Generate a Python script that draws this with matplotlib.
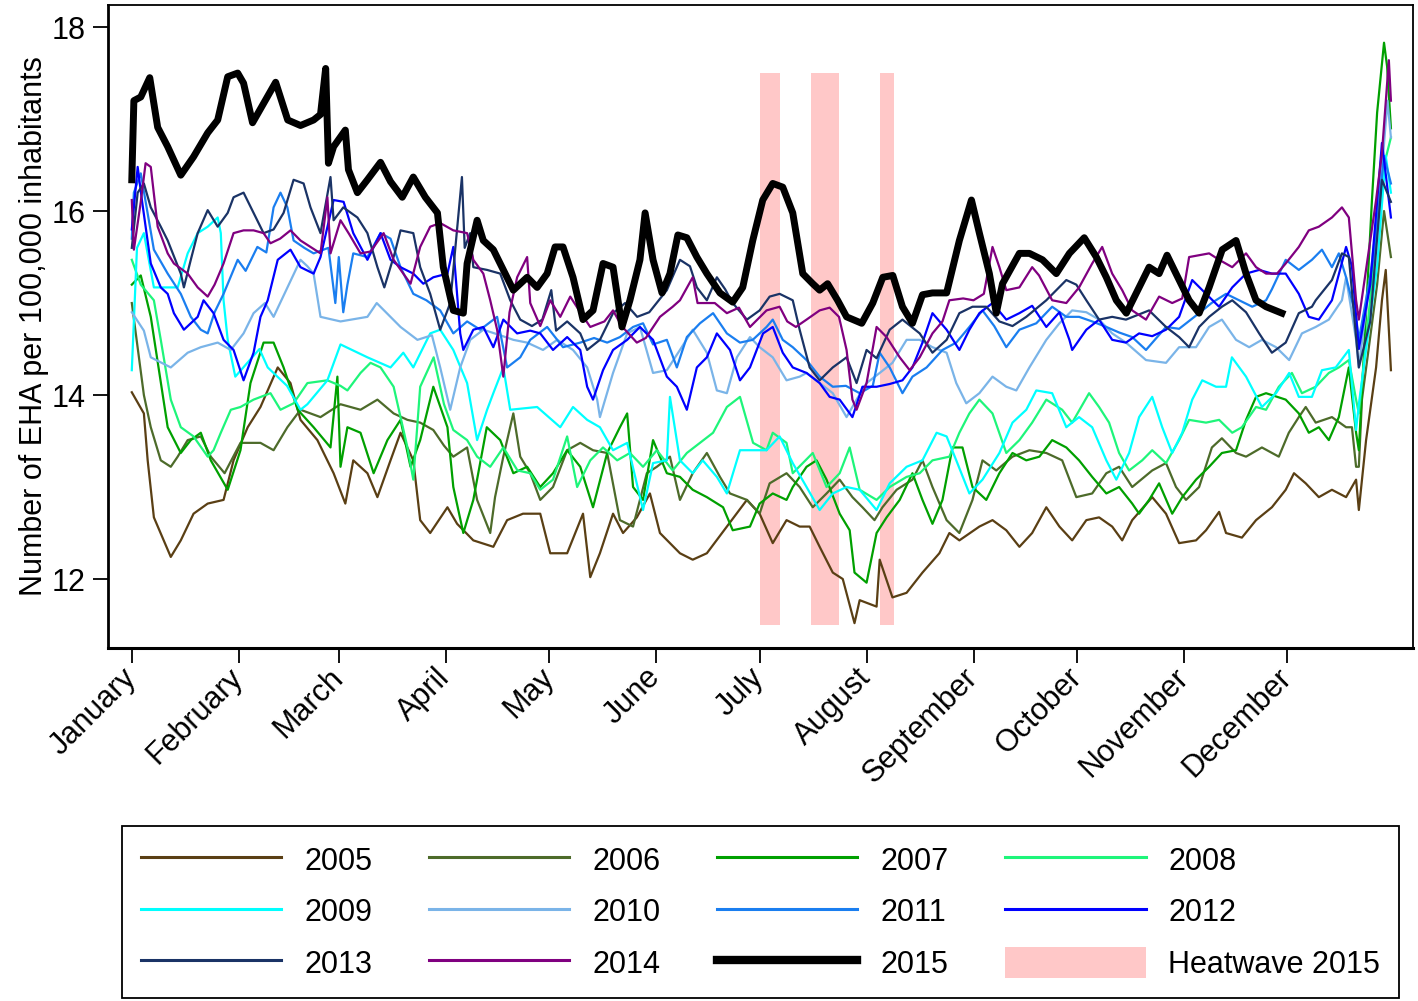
import matplotlib
matplotlib.use('Agg')
import matplotlib.pyplot as plt
from matplotlib.patches import Patch
from matplotlib.lines import Line2D

plt.rcParams['font.family'] = ['Liberation Sans', 'DejaVu Sans']

# day of year (leap calendar, 1..366) and daily EHA rate per 100,000
Y2005 = [(1, 14.03), (4.5, 13.8), (5.6, 13.29), (7.4, 12.67), (12.3, 12.24), (15.2, 12.42), (18.9, 12.71),
         (23, 12.82), (27.6, 12.86), (30.5, 13.29), (34.6, 13.65), (38.3, 13.87), (43.3, 14.3), (47, 14.13),
         (49.9, 13.73), (54.8, 13.51), (59.5, 13.15), (62.9, 12.82), (65.2, 13.29), (69.3, 13.15), (72.2, 12.89),
         (76, 13.29), (78.9, 13.59), (82.6, 13.29), (84.6, 12.64), (87.5, 12.5), (92.5, 12.78), (95.3, 12.6),
         (100, 12.42), (105.8, 12.35), (109.8, 12.64), (114.4, 12.71), (119.4, 12.71), (122.3, 12.28),
         (127.2, 12.28), (131.8, 12.71), (133.9, 12.02), (136.7, 12.28), (140.5, 12.71), (143.4, 12.5),
         (147.4, 12.67), (151.2, 12.93), (154.1, 12.5), (159.9, 12.28), (163.6, 12.21), (167.7, 12.28),
         (173.5, 12.57), (179.3, 12.86), (183, 12.71), (186.8, 12.39), (190.8, 12.64), (194.6, 12.57),
         (197.5, 12.57), (200.4, 12.35), (204.2, 12.07), (207.1, 12.0), (210.5, 11.52), (212, 11.77),
         (216.9, 11.7), (217.8, 12.21), (221.5, 11.8), (225.6, 11.85), (230.2, 12.07), (235.1, 12.28),
         (238, 12.5), (240.9, 12.42), (246.7, 12.57), (250.5, 12.64), (254.5, 12.53), (258.3, 12.35),
         (262, 12.5), (266.1, 12.78), (269.9, 12.57), (273.6, 12.42), (277.7, 12.64), (281.4, 12.67),
         (285.2, 12.57), (288.1, 12.42), (291, 12.64), (296.8, 12.89), (300.8, 12.71), (304.6, 12.39),
         (309.5, 12.42), (312.4, 12.53), (316.2, 12.73), (318.2, 12.5), (322.8, 12.45), (326.9, 12.64),
         (331.5, 12.78), (335.5, 12.97), (337.9, 13.15), (341.3, 13.04), (345.1, 12.89), (348.9, 12.97),
         (353, 12.89), (355.9, 13.08), (356.7, 12.75), (358.8, 13.51), (361.7, 14.3), (363.4, 15.03),
         (364.5, 15.36), (366, 14.27)]

Y2006 = [(1, 15.0), (4.5, 14.0), (6.5, 13.65), (9.4, 13.29), (12.3, 13.22), (14.3, 13.33), (17.2, 13.51),
         (21, 13.55), (23.9, 13.33), (27.9, 13.15), (32.5, 13.48), (38.3, 13.48), (42.1, 13.4), (46.1, 13.65),
         (49.9, 13.84), (55.7, 13.76), (61.5, 13.9), (67.3, 13.84), (72.2, 13.95), (76.9, 13.8), (80.9, 13.73),
         (84.6, 13.7), (88.4, 13.62), (91.5, 13.45), (94.2, 13.33), (98.2, 13.43), (101.1, 12.86),
         (104.9, 12.5), (106.3, 12.89), (108.7, 13.33), (111.6, 13.8), (113.6, 13.33), (116.5, 13.15),
         (119.4, 12.86), (123.1, 13.0), (127.2, 13.4), (131, 13.48), (134.7, 13.4), (138.8, 13.37),
         (142.5, 12.64), (146.3, 12.57), (150.3, 13.15), (153.2, 13.22), (157, 13.33), (159.9, 12.86),
         (163.6, 13.15), (167.7, 13.37), (171.5, 13.11), (174.4, 12.93), (179.3, 12.86), (183, 12.71),
         (185.9, 13.04), (190.8, 13.15), (194.6, 13.0), (198.4, 12.78), (202.4, 12.93), (206.2, 13.08),
         (209.9, 12.89), (212.8, 12.78), (216.3, 12.64), (218.6, 12.78), (222.7, 12.97), (227.3, 13.08),
         (230.2, 13.29), (233.1, 13.0), (237.2, 12.64), (240.9, 12.5), (244.7, 12.86), (247.6, 13.29),
         (251.6, 13.18), (256.3, 13.33), (261.2, 13.4), (266.1, 13.37), (270.7, 13.29), (274.8, 12.89),
         (279.4, 12.93), (283.5, 13.15), (287.2, 13.22), (291, 13.0), (296.8, 13.18), (300.8, 13.26),
         (303.7, 13.0), (306.6, 12.86), (310.4, 13.0), (314.1, 13.43), (317, 13.53), (321.1, 13.37),
         (324, 13.33), (328.6, 13.43), (333.5, 13.33), (336.4, 13.59), (339.3, 13.76), (341.3, 13.87),
         (344.2, 13.7), (348.9, 13.76), (353, 13.65), (354.7, 13.65), (355.9, 13.22), (356.7, 13.22),
         (357.6, 13.95), (362, 15.2), (364, 16.0), (366, 15.5)]

Y2007 = [(1, 15.2), (3.6, 15.3), (6.5, 14.85), (11.4, 13.65), (15.2, 13.37), (18.1, 13.51), (21, 13.59),
         (23.9, 13.29), (28.8, 12.97), (32.5, 13.4), (35.4, 14.13), (39.2, 14.57), (42.1, 14.57), (45, 14.3),
         (49.1, 13.84), (53.7, 13.65), (58.6, 13.43), (60.6, 14.2), (61.5, 13.22), (63.5, 13.65),
         (67.3, 13.59), (71.1, 13.15), (75.1, 13.51), (78.9, 13.73), (81.8, 13.22), (84.6, 13.51),
         (88.4, 14.09), (92.5, 13.65), (94.2, 13.0), (97.1, 12.5), (100, 12.86), (103.9, 13.65),
         (107.8, 13.51), (111.6, 13.15), (115.6, 13.22), (119.4, 13.0), (123.1, 13.15), (127.2, 13.4),
         (131, 13.22), (134.7, 12.78), (138.8, 13.37), (142.5, 13.65), (144.6, 13.8), (146.3, 13.0),
         (149.2, 12.86), (152.1, 13.51), (156.1, 13.15), (159.9, 13.11), (163.6, 12.97), (167.7, 12.89),
         (172.4, 12.78), (175.2, 12.53), (180.2, 12.57), (183, 12.82), (186.8, 12.93), (190.8, 12.86),
         (192.6, 13.0), (196.6, 13.22), (199.5, 13.29), (202.4, 13.08), (206.2, 12.71), (209.1, 12.53),
         (210.5, 12.07), (214, 11.96), (216.9, 12.5), (219.8, 12.67), (223.6, 12.86), (227.3, 13.15),
         (230.2, 12.86), (233.1, 12.6), (236, 12.86), (238.9, 13.43), (241.8, 13.43), (244.7, 13.0),
         (248.7, 12.86), (252.5, 13.15), (256.3, 13.37), (260.3, 13.29), (264.1, 13.33), (267.8, 13.51),
         (271.9, 13.43), (275.6, 13.29), (279.4, 13.11), (283.5, 12.93), (287.2, 13.0), (291, 12.82),
         (293, 12.71), (295.9, 12.86), (298.8, 13.04), (302.6, 12.71), (305.5, 12.89), (309.5, 13.08),
         (313.3, 13.22), (317, 13.37), (321.1, 13.4), (324, 13.73), (326.9, 13.98), (329.8, 14.02),
         (335.5, 13.95), (339.3, 13.8), (342.2, 13.59), (345.1, 13.65), (348, 13.51), (350.9, 13.76),
         (353.8, 14.3), (355.9, 13.59), (356.7, 13.4), (360.5, 16.12), (362, 17.07), (364, 17.83),
         (364.9, 17.57), (366, 16.9)]

Y2008 = [(1, 15.47), (3.6, 15.2), (7.4, 15.03), (9.4, 14.6), (12.3, 13.95), (15.2, 13.65), (18.9, 13.55),
         (23, 13.33), (24.7, 13.4), (26.8, 13.59), (29.7, 13.84), (32.5, 13.87), (36.3, 13.95), (41.2, 14.02),
         (44.1, 13.84), (47.9, 13.91), (51.9, 14.13), (57.7, 14.16), (61.5, 14.1), (63.5, 14.05),
         (67.3, 14.24), (70.2, 14.35), (73.1, 14.3), (76.9, 14.09), (80.9, 13.43), (82.6, 13.08),
         (84.6, 14.09), (88.5, 14.41), (91.5, 13.9), (94.2, 13.62), (98.2, 13.51), (101.1, 13.33),
         (104.9, 13.22), (108.7, 13.43), (112.8, 13.18), (116.5, 13.15), (119.4, 12.97), (123.1, 13.08),
         (127.2, 13.55), (130.1, 13.0), (133.9, 13.29), (137.6, 13.43), (141.7, 13.29), (145.4, 13.37),
         (149.2, 13.22), (153.2, 13.4), (157.8, 13.18), (161.9, 13.37), (165.7, 13.48), (169.5, 13.59),
         (173.5, 13.87), (177.3, 13.98), (181.1, 13.48), (185, 13.4), (186.8, 13.59), (190.8, 13.48),
         (192.6, 13.15), (198.4, 13.37), (202.4, 13.0), (206.2, 13.15), (209.1, 13.43), (212, 12.97),
         (216.9, 12.86), (220.7, 13.0), (225.6, 13.11), (229.4, 13.15), (233.1, 13.29), (238, 13.33),
         (240.9, 13.59), (243.8, 13.8), (246.7, 13.95), (250.5, 13.8), (254.5, 13.37), (258.3, 13.51),
         (262, 13.7), (266.1, 13.95), (270.7, 13.84), (273.6, 13.7), (278.5, 14.02), (281.4, 13.87),
         (284.3, 13.7), (287.2, 13.37), (290.1, 13.18), (293.9, 13.29), (296.8, 13.4), (300.8, 13.26),
         (304.6, 13.51), (307.5, 13.73), (312.4, 13.7), (316.2, 13.73), (320, 13.59), (322.8, 13.65),
         (326.9, 13.87), (329.8, 13.84), (333.5, 14.09), (337.3, 14.24), (340.2, 14.02), (344.2, 14.09),
         (348, 14.24), (350.9, 14.3), (353.8, 14.38), (355.9, 13.95), (356.7, 13.8), (362, 15.8),
         (364, 16.5), (366, 16.8)]

Y2009 = [(1, 14.27), (2.5, 15.6), (4.5, 15.76), (7.4, 15.17), (14.3, 15.17), (17.2, 15.54), (20.1, 15.76),
         (23, 15.83), (25.9, 15.93), (26.8, 15.76), (27.6, 15.03), (28.8, 14.6), (31, 14.2), (38, 14.5),
         (40.4, 14.3), (46, 14.1), (49.9, 13.84), (51.9, 13.9), (57.7, 14.16), (61.5, 14.55), (69.3, 14.41),
         (76, 14.3), (79.7, 14.46), (82.6, 14.3), (87.5, 14.67), (90.4, 14.71), (94.2, 14.49), (98.2, 14.13),
         (101.1, 13.51), (104, 13.84), (105.8, 14.02), (108.7, 14.3), (110.7, 13.84), (118.5, 13.87),
         (125.2, 13.65), (128.9, 13.87), (133, 13.73), (136.7, 13.65), (140.5, 13.4), (144.6, 13.48),
         (149.2, 12.75), (152.1, 13.26), (156.1, 13.29), (157, 13.98), (159.9, 13.29), (163.6, 13.15),
         (166.5, 13.29), (170.6, 13.11), (173.5, 12.93), (177.3, 13.4), (181, 13.4), (185, 13.4),
         (188.8, 13.55), (192.6, 13.26), (196.6, 13.0), (200.4, 12.75), (204.2, 12.93), (208.2, 13.0),
         (212, 12.97), (216.9, 12.75), (220.7, 13.04), (225.6, 13.22), (230.2, 13.29), (234.3, 13.59),
         (237.2, 13.55), (240, 13.29), (243.8, 12.93), (247.6, 13.08), (252.5, 13.37), (256.3, 13.7),
         (260.3, 13.84), (263.2, 14.05), (267.8, 14.02), (271.9, 13.65), (275.6, 13.76), (279.4, 13.65),
         (283.5, 13.29), (286.4, 13.08), (290.1, 13.37), (293, 13.76), (296.8, 13.98), (299.7, 13.65),
         (302.6, 13.37), (305.5, 13.59), (308.4, 13.95), (311.3, 14.16), (315.3, 14.09), (318.2, 14.09),
         (319.9, 14.41), (324, 14.2), (328.6, 13.87), (332.7, 14.02), (336.5, 14.24), (339.3, 13.98),
         (343.1, 13.98), (346, 14.27), (350, 14.3), (353.8, 14.49), (355.9, 13.62), (356.7, 13.9),
         (362, 15.4), (364.5, 16.6), (366, 16.2)]

Y2010 = [(1, 14.9), (4.5, 14.7), (6.5, 14.41), (12.3, 14.3), (17.2, 14.46), (21, 14.52), (25.9, 14.57),
         (29.7, 14.49), (33.4, 14.67), (36.3, 14.89), (39.6, 15.0), (42.1, 14.85), (49.9, 15.47),
         (51.9, 15.4), (53.7, 15.32), (55.7, 14.85), (61.5, 14.8), (69.3, 14.85), (72, 15.0), (78.9, 14.74),
         (83.8, 14.6), (88, 14.65), (90.4, 14.3), (93.3, 13.84), (96.2, 14.3), (99.1, 14.6), (102.9, 14.71),
         (107.8, 14.65), (111.6, 14.6), (115.6, 14.57), (120.2, 14.49), (124.3, 14.6), (128.9, 14.49),
         (133, 14.3), (135.9, 13.95), (136.7, 13.76), (140.5, 14.24), (144.6, 14.67), (148.3, 14.74),
         (152.1, 14.24), (156.1, 14.27), (159.9, 14.49), (163.6, 14.71), (167.7, 14.46), (170.6, 14.05),
         (173.5, 14.02), (176.4, 14.41), (180.2, 14.63), (183, 14.52), (186.8, 14.41), (190.8, 14.16),
         (194.6, 14.2), (196.6, 14.24), (200.4, 14.13), (204.2, 14.02), (208.2, 13.76), (211.1, 13.95),
         (214, 14.13), (217.8, 14.24), (221.5, 14.35), (225.6, 14.6), (229.4, 14.6), (233.1, 14.52),
         (237.2, 14.46), (240, 14.13), (242.9, 13.91), (246.7, 14.02), (250.5, 14.2), (254.5, 14.09),
         (257.4, 14.05), (261.2, 14.3), (266.1, 14.6), (269.9, 14.78), (273.6, 14.92), (277.7, 14.9),
         (281.4, 14.82), (285.2, 14.67), (289.2, 14.57), (295, 14.38), (300.8, 14.35), (304.6, 14.52),
         (309.5, 14.52), (313.3, 14.74), (317, 14.82), (321.1, 14.6), (324.9, 14.52), (328.6, 14.6),
         (332.7, 14.52), (336.5, 14.38), (340.2, 14.67), (344.2, 14.74), (348, 14.82), (351.8, 15.03),
         (353, 15.28), (355.9, 14.6), (356.7, 14.3), (361, 15.6), (363.5, 16.5), (365, 17.2), (366, 16.8)]

Y2011 = [(1, 15.7), (1.6, 16.2), (3.6, 16.41), (7.4, 15.58), (11.4, 15.32), (15.2, 15.1), (18.1, 14.85),
         (21, 14.71), (23, 14.67), (25, 14.9), (27.6, 15.1), (31.7, 15.47), (34, 15.35), (37.4, 15.61),
         (40, 15.55), (42.1, 16.04), (44.1, 16.2), (46.1, 16.04), (47.9, 15.68), (51, 15.6), (53.7, 15.54),
         (58, 15.6), (60, 15.0), (61, 15.5), (62.3, 14.9), (63.5, 15.2), (65.2, 15.54), (69.3, 15.5),
         (73.1, 15.76), (76, 15.7), (78.9, 15.39), (82.6, 15.1), (86.4, 15.03), (90.4, 14.92), (94.2, 14.67),
         (98.2, 14.8), (102, 14.71), (106.9, 14.85), (109.8, 14.3), (113.6, 14.41), (116.5, 14.6),
         (121.4, 14.74), (126, 14.52), (131, 14.57), (135, 14.62), (138.8, 14.57), (142.5, 14.63),
         (146.3, 14.74), (149.2, 14.78), (152.1, 14.55), (156.1, 14.6), (159, 14.3), (161.9, 14.63),
         (165.7, 14.78), (169.5, 14.89), (173.5, 14.67), (177.3, 14.57), (181, 14.6), (185, 14.74),
         (186.8, 14.82), (189.7, 14.6), (192.6, 14.52), (196.6, 14.38), (200.4, 14.2), (204.2, 14.09),
         (208, 14.1), (212, 14.02), (215.8, 14.1), (217.8, 14.46), (220.7, 14.3), (224.4, 14.02),
         (227.3, 14.2), (231.4, 14.3), (236, 14.49), (240, 14.57), (243.8, 14.74), (247.6, 14.92),
         (251, 14.75), (254.5, 14.52), (258.3, 14.71), (263.2, 14.78), (267.8, 14.96), (271.9, 14.85),
         (275.6, 14.85), (279.4, 14.8), (283.5, 14.74), (287.2, 14.68), (291, 14.63), (295, 14.49),
         (300.8, 14.74), (304.6, 14.72), (310.4, 14.89), (314, 15.0), (318.2, 15.1), (325.8, 14.96),
         (329.8, 15.03), (331.5, 15.15), (335.5, 15.47), (339.3, 15.36), (343.1, 15.47), (346, 15.58),
         (348.9, 15.39), (350.9, 15.54), (353, 15.28), (355.9, 14.85), (356.7, 14.6), (361, 15.5),
         (364, 16.6), (366, 16.3)]

Y2012 = [(1, 15.8), (2.7, 16.48), (4, 16.1), (6.5, 15.43), (9.4, 15.17), (11.4, 15.1), (13.2, 14.89),
         (16.1, 14.71), (20.1, 14.85), (21.8, 15.03), (24.7, 14.89), (27.6, 14.6), (30.5, 14.49),
         (33.4, 14.16), (36.3, 14.46), (38.3, 14.85), (40.4, 15.03), (43.3, 15.47), (47, 15.58),
         (49.9, 15.39), (53.7, 15.32), (55.7, 15.5), (59.5, 16.12), (62.4, 16.1), (65.2, 15.76),
         (69.3, 15.47), (73.1, 15.76), (76, 15.47), (78.9, 15.39), (82.6, 15.32), (85.5, 15.21),
         (88.4, 15.28), (92.5, 15.32), (94.2, 15.61), (96.2, 14.67), (97.1, 14.49), (100, 14.71),
         (102.9, 14.74), (105.8, 14.52), (108.7, 14.82), (112.7, 14.67), (116.5, 14.7), (119.4, 14.67),
         (123.1, 14.49), (127.2, 14.63), (131, 14.49), (133, 14.09), (134.7, 13.95), (137.6, 14.27),
         (140.5, 14.49), (144.6, 14.6), (148.3, 14.74), (152.1, 14.6), (156.1, 14.2), (159, 14.09),
         (161.9, 13.84), (164.8, 14.3), (167.7, 14.41), (170.6, 14.67), (174.4, 14.49), (177.3, 14.16),
         (180.2, 14.3), (184, 14.67), (186.8, 14.74), (189.7, 14.46), (192.6, 14.3), (196.6, 14.24),
         (200.4, 14.13), (203.3, 13.98), (206.2, 13.95), (209.9, 13.76), (212.8, 14.09), (216.9, 14.09),
         (220.7, 14.12), (224.4, 14.16), (227.3, 14.3), (230.2, 14.57), (233.1, 14.89), (237.2, 14.71),
         (240.9, 14.49), (243.8, 14.71), (246.7, 14.89), (250.5, 15.0), (254.5, 14.82), (258.3, 14.89),
         (262, 14.97), (266.1, 14.74), (269.9, 14.9), (272.8, 14.6), (273.6, 14.49), (277.7, 14.71),
         (281.4, 14.82), (285.2, 14.6), (289.2, 14.57), (293, 14.67), (296.8, 14.64), (300.8, 14.71),
         (304.6, 14.85), (308.4, 15.25), (312.4, 15.1), (316.2, 14.96), (320, 15.17), (324, 15.32),
         (327.8, 15.36), (331.5, 15.32), (335.5, 15.32), (339.3, 15.1), (342.2, 14.85), (345.1, 14.82),
         (348.9, 15.03), (353, 15.61), (354.7, 15.4), (356.7, 14.5), (360, 15.2), (363.4, 16.74),
         (364.5, 16.4), (366, 15.93)]

Y2013 = [(1, 15.6), (2.7, 16.2), (4.5, 16.3), (6.5, 16.04), (9.4, 15.83), (11.4, 15.68), (15.2, 15.32),
         (16.1, 15.17), (18.1, 15.47), (20.1, 15.76), (23, 16.01), (25.9, 15.83), (28.8, 15.98),
         (30.5, 16.15), (33.4, 16.2), (36.3, 15.98), (39.2, 15.76), (42.1, 15.8), (45, 15.98), (47.9, 16.34),
         (50.8, 16.3), (52.8, 16.04), (55.7, 15.76), (58.6, 16.37), (59.5, 15.9), (62.3, 16.04),
         (66.4, 15.93), (69.3, 15.76), (72.2, 15.39), (74.2, 15.17), (77.2, 15.54), (78.9, 15.79),
         (82.6, 15.76), (84.6, 15.39), (87.5, 15.1), (90.4, 14.71), (93.3, 15.0), (96.7, 16.37),
         (97.5, 15.6), (99.1, 15.76), (100, 15.39), (104, 15.36), (107.8, 15.32), (110.7, 15.03),
         (113.6, 14.82), (117, 14.75), (120, 14.82), (122.6, 15.14), (124, 14.7), (127.2, 14.8),
         (131, 14.67), (133, 14.49), (136.7, 14.6), (140.5, 14.89), (144, 15.0), (147.5, 14.85),
         (151, 14.9), (156.1, 15.14), (159.9, 15.47), (162.8, 15.4), (164.8, 15.17), (167.7, 15.03),
         (170.6, 15.28), (173, 15.15), (175.2, 15.0), (179.3, 14.82), (183, 14.92), (185.9, 15.07),
         (188.8, 15.1), (192.6, 15.03), (194.6, 14.71), (197.5, 14.3), (200.4, 14.16), (204.2, 14.3),
         (208.2, 14.41), (211.1, 14.13), (214, 14.49), (216.9, 14.4), (220.7, 14.71), (224.4, 14.82),
         (229.4, 14.67), (233.1, 14.46), (237.2, 14.6), (240.9, 14.89), (244.7, 14.96), (248.7, 14.96),
         (252.5, 14.8), (256.3, 14.75), (260.3, 14.85), (266.1, 15.03), (271.9, 15.25), (274.8, 15.2),
         (277.7, 15.03), (281.4, 14.82), (285.2, 14.85), (289.2, 14.82), (295.9, 14.92), (300.8, 14.74),
         (304.6, 14.63), (307.5, 14.52), (310.4, 14.74), (313.3, 14.85), (317, 14.96), (320, 15.03),
         (324, 14.9), (327.8, 14.67), (331.5, 14.46), (335.5, 14.57), (339.3, 14.89), (343.1, 14.96),
         (344.2, 15.03), (348.9, 15.25), (351.8, 15.54), (353.8, 15.5), (356.7, 14.3), (360, 14.8),
         (363.4, 16.34), (366, 16.1)]

Y2014 = [(1, 16.12), (1.6, 15.58), (3.6, 16.1), (5, 16.52), (6.5, 16.48), (8.5, 15.83), (11.4, 15.54),
         (13.2, 15.43), (17.2, 15.32), (20.1, 15.17), (23, 15.07), (25, 15.2), (27.6, 15.43), (30.5, 15.76),
         (33.4, 15.79), (36.3, 15.79), (39.2, 15.76), (41.2, 15.65), (44, 15.7), (47, 15.79), (49.9, 15.68),
         (52.8, 15.61), (55.7, 15.54), (57.7, 16.15), (58.6, 15.54), (61.5, 15.9), (64, 15.75),
         (67.3, 15.54), (70.2, 15.56), (74, 15.76), (76.9, 15.47), (79.7, 15.32), (81.8, 15.21),
         (84.6, 15.61), (87.5, 15.83), (90.4, 15.87), (94.2, 15.79), (98.2, 15.76), (100, 15.47),
         (102.9, 15.32), (104.9, 15.03), (106.9, 14.71), (108.7, 14.2), (110.5, 14.9), (112.7, 15.28),
         (115.6, 15.5), (116.5, 15.0), (119.4, 14.75), (122.3, 15.03), (125.2, 14.85), (128.1, 15.07),
         (131, 14.9), (133.9, 14.74), (138, 14.8), (140.5, 14.92), (143, 14.75), (147.4, 14.57),
         (150, 14.62), (154.1, 14.85), (157.8, 14.96), (159.9, 15.03), (163.6, 15.28), (165, 15.0),
         (170, 15.0), (173.5, 14.89), (177, 14.95), (180.2, 14.74), (185, 14.92), (188.8, 14.96),
         (191, 14.8), (193.5, 14.74), (196.6, 14.82), (200.4, 14.92), (203.3, 14.95), (206, 14.85),
         (208.2, 14.49), (209.9, 13.95), (211.1, 13.84), (214, 14.13), (216.9, 14.74), (219.8, 14.63),
         (223.6, 14.41), (226.5, 14.27), (229.4, 14.41), (233.1, 14.67), (236, 14.8), (238, 15.03),
         (242, 15.05), (245, 15.03), (248, 15.1), (250.5, 15.61), (252.5, 15.39), (254.5, 15.14),
         (258.3, 15.17), (262, 15.39), (264, 15.3), (267.8, 15.03), (271.9, 15.0), (275.6, 15.17),
         (279.4, 15.43), (282.3, 15.61), (285.2, 15.32), (288.1, 15.14), (291, 14.92), (295, 14.82),
         (298.8, 15.07), (302.6, 15.0), (305.5, 15.05), (307.5, 15.5), (313.3, 15.54), (316.2, 15.47),
         (320, 15.39), (324, 15.54), (326.9, 15.39), (329.8, 15.32), (333, 15.32), (335.5, 15.43),
         (339.3, 15.61), (342.2, 15.79), (345.1, 15.83), (348.9, 15.93), (351.8, 16.04), (353.8, 15.93),
         (354.7, 15.54), (355.9, 15.03), (356.7, 14.82), (361.7, 16.12), (363.4, 16.63), (365.4, 17.64),
         (366, 17.2)]

Y2015 = [(1, 16.34), (1.6, 17.2), (3.6, 17.24), (6.2, 17.45), (8.5, 16.91), (11.4, 16.7), (15.2, 16.39),
         (18.9, 16.59), (23, 16.85), (25.9, 16.99), (28.8, 17.46), (31.7, 17.5), (33.4, 17.39), (36, 16.96),
         (39.2, 17.17), (42.7, 17.4), (46.2, 16.99), (49.9, 16.93), (53.7, 16.99), (55.7, 17.05),
         (57.2, 17.55), (58, 16.52), (59.5, 16.7), (62.9, 16.88), (63.8, 16.45), (66.4, 16.2), (69.3, 16.34),
         (73.1, 16.53), (76, 16.32), (79.4, 16.15), (82.6, 16.37), (86.1, 16.15), (89.6, 15.98),
         (91.3, 15.39), (94.2, 14.92), (97.1, 14.89), (98.2, 15.43), (101.1, 15.9), (102.9, 15.68),
         (105.8, 15.58), (108.7, 15.36), (111.6, 15.14), (115.6, 15.28), (118.5, 15.17), (121.4, 15.32),
         (123.7, 15.61), (126, 15.61), (128.9, 15.28), (131.8, 14.82), (134.7, 14.92), (137.6, 15.43),
         (140.5, 15.39), (143.1, 14.74), (145.4, 15.03), (148.3, 15.47), (149.8, 15.98), (152.1, 15.47),
         (154.7, 15.11), (157, 15.32), (159.3, 15.74), (161.9, 15.71), (164.8, 15.5), (167.7, 15.32),
         (171.5, 15.11), (175.2, 15.01), (178.1, 15.17), (181, 15.68), (183.9, 16.12), (186.8, 16.3),
         (189.7, 16.26), (192.6, 15.98), (195.5, 15.32), (198.4, 15.21), (200.4, 15.14), (202.7, 15.21),
         (205.6, 15.03), (208.2, 14.85), (212.6, 14.78), (215.8, 15.0), (218.7, 15.28), (221.6, 15.3),
         (224.4, 14.96), (227.3, 14.78), (230.2, 15.09), (233.1, 15.11), (237.2, 15.11), (240.9, 15.68),
         (244.4, 16.12), (246.7, 15.76), (249.6, 15.32), (251.6, 14.89), (253.4, 15.21), (258.3, 15.54),
         (261.2, 15.54), (265, 15.47), (269, 15.32), (272.8, 15.54), (277.1, 15.71), (280.6, 15.5),
         (283.5, 15.28), (286.4, 15.03), (289.3, 14.89), (293, 15.17), (295.9, 15.39), (298.8, 15.32),
         (301.1, 15.52), (303.7, 15.32), (307.5, 15.03), (310.4, 14.89), (313.3, 15.17), (317.1, 15.58),
         (321.1, 15.68), (324, 15.32), (326.9, 15.03), (329.8, 14.96), (334.4, 14.89)]

YEARS = ['2005', '2006', '2007', '2008', '2009', '2010', '2011', '2012', '2013', '2014', '2015']
SERIES = [Y2005, Y2006, Y2007, Y2008, Y2009, Y2010, Y2011, Y2012, Y2013, Y2014, Y2015]
COLORS = ['#5a3f14', '#4d6b2a', '#00a000', '#1ef57a', '#00ffff', '#7ab4e8',
          '#1a7ef0', '#0000ff', '#1a3366', '#800080', '#000000']

# heatwave 2015 periods (day of year)
HEAT_START = [183, 198, 218]
HEAT_END = [189, 206, 222]
HEAT_LOW, HEAT_HIGH = 11.5, 17.5

MONTHS = ['January', 'February', 'March', 'April', 'May', 'June', 'July',
          'August', 'September', 'October', 'November', 'December']
MONTH_DAYS = [1, 32, 61, 92, 122, 153, 183, 214, 245, 275, 306, 336]

FS = 22

fig = plt.figure(figsize=(14.18, 10.01), dpi=100)
ax = fig.add_axes([108 / 1418, 1 - 648 / 1001, (1413 - 108) / 1418, (648 - 5) / 1001])

# heatwave bands
for s, e in zip(HEAT_START, HEAT_END):
    ax.fill_between([s, e], HEAT_LOW, HEAT_HIGH, color='#ffc8c8', lw=0, zorder=1)

handles = []
for year, data, col in zip(YEARS, SERIES, COLORS):
    days = [d for d, _ in data]
    vals = [v for _, v in data]
    lw = 5.0 if year == '2015' else 1.6
    ax.plot(days, vals, color=col, lw=lw, zorder=3 if year == '2015' else 2,
            solid_joinstyle='round')
    handles.append(Line2D([], [], color=col, lw=6.0 if year == '2015' else 2.2))
handles.append(Patch(facecolor='#ffc8c8', edgecolor='none'))
labels = YEARS + ['Heatwave 2015']

ax.set_xlim(-5.9, 372.4)
ax.set_ylim(11.25, 18.24)
ax.set_yticks([12, 14, 16, 18])
ax.set_yticklabels(['12', '14', '16', '18'], fontsize=FS)
ax.set_xticks(MONTH_DAYS)
ax.set_xticklabels(MONTHS, fontsize=FS, rotation=45, ha='right', va='center',
                   rotation_mode='anchor')
ax.tick_params(axis='both', direction='out', length=11, width=1.3, pad=5)
ax.tick_params(axis='x', pad=7)
ax.set_ylabel('Number of EHA per 100,000 inhabitants', fontsize=FS, labelpad=2)
for sp in ax.spines.values():
    sp.set_linewidth(1.3)
ax.spines['bottom'].set_linewidth(2.2)
ax.spines['left'].set_linewidth(2.0)

# legend, row-major like the original
order = [0, 4, 8, 1, 5, 9, 2, 6, 10, 3, 7, 11]
leg = fig.legend([handles[i] for i in order], [labels[i] for i in order],
                 loc='center', bbox_to_anchor=(760.5 / 1418, 1 - 912 / 1001),
                 ncol=4, fontsize=FS, frameon=True, fancybox=False,
                 edgecolor='black', framealpha=1, handlelength=4.6,
                 handleheight=1.15, handletextpad=0.75, columnspacing=1.85,
                 labelspacing=0.62, borderpad=0.6)
leg.get_frame().set_linewidth(1.3)

fig.savefig('out.png', dpi=100)
